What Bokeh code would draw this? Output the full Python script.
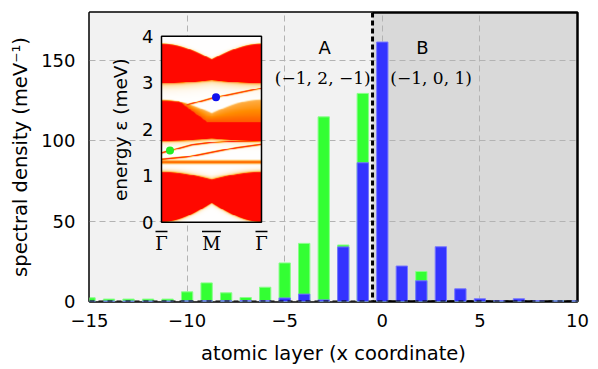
import numpy as np
from bokeh.plotting import figure
from bokeh.models import (Range1d, Span, FixedTicker, ColumnDataSource)
from bokeh.core.properties import value
from bokeh.embed import file_html
from bokeh.resources import INLINE

# ---------------- data ----------------
layers = list(range(-15, 11))
green_density = [2.3, 1.5, 1.5, 1.5, 1.5, 6.0, 11.6, 5.4, 2.5, 8.9, 24.0, 36.2, 115.0,
                 35.2, 129.6, 0.5, 0.3, 18.7, 0.3, 0.3, 0.3, 0.3, 0.3, 0.3, 0.6, 0.3]
blue_density = [0.3, 0.3, 0.3, 0.3, 0.3, 0.4, 0.5, 0.5, 0.6, 0.6, 2.2, 4.6, 1.0,
                34.0, 86.4, 161.6, 22.1, 12.9, 34.1, 7.9, 1.7, 0.6, 1.7, 0.6, 0.4, 0.4]
x_ticks = [-15, -10, -5, 0, 5, 10]
x_tick_labels = ["\u221215", "\u221210", "\u22125", "0", "5", "10"]
y_ticks = [0, 50, 100, 150]
boundary = -0.5
region_names = ["A", "B"]
region_tuples = ["(\u22121, 2, \u22121)", "(\u22121, 0, 1)"]

# inset (band structure) data
inset_k_ticks = [0, 1, 2]
inset_k_labels = ["\u0393", "M", "\u0393"]
inset_e_ticks = [0, 1, 2, 3, 4]
band_bottom = (0.0, 0.40, 1.08, 0.92)   # lower(G), lower(M), upper(G), upper(M)
band_top = (2.98, 3.05, 3.84, 3.51)
band_mid_lower = (1.74, 1.79)
mid_red_top_k = [0.0, 0.35, 0.9, 2.0]
mid_red_top_e = [2.62, 2.60, 2.17, 2.15]
mid_orange_top = (2.64, 2.35)
flat_orange = (1.25, 1.33)
line_a_k = [0.0, 0.17, 0.6, 1.0, 1.5, 2.0]
line_a_e = [1.49, 1.54, 1.66, 1.71, 1.74, 1.75]
line_b_k = [0.0, 0.5, 1.0, 1.5, 2.0]
line_b_e = [1.35, 1.40, 1.50, 1.60, 1.67]
line_c_k = [0.5, 1.09, 2.0]
line_c_e = [2.52, 2.69, 2.88]
green_state = (0.17, 1.54)
blue_state = (1.09, 2.69)

# ---------------- inset image ----------------
NK, NE = 200, 400
kk = np.linspace(0, 2, NK)
ee = np.linspace(0, 4, NE)
K, EE = np.meshgrid(kk, ee)
cc = np.abs(np.cos(np.pi * K / 2))


def edge(g, m):
    return m + (g - m) * cc


def inside(lo, hi, soft=0.025):
    return np.clip((EE - lo) / soft + 0.5, 0, 1) * np.clip((hi - EE) / soft + 0.5, 0, 1)


def glow_below(lo, w, a):
    d = lo - EE
    return np.where(d > 0, a * np.exp(-d / w), 0)


def glow_above(hi, w, a):
    d = EE - hi
    return np.where(d > 0, a * np.exp(-d / w), 0)


def curve(ks, es, width=0.018):
    ec = np.interp(K, ks, es, left=np.nan, right=np.nan)
    g = np.exp(-((EE - ec) / width) ** 2)
    return np.nan_to_num(g)


I = np.zeros_like(EE)
lo1, hi1 = edge(band_bottom[0], band_bottom[1]), edge(band_bottom[2], band_bottom[3])
I = np.maximum(I, inside(lo1, hi1))
I = np.maximum(I, glow_above(hi1, 0.04, 0.5))
I = np.maximum(I, glow_below(lo1, 0.03, 0.4))
I = np.maximum(I, 0.7 * inside(flat_orange[0], flat_orange[1], 0.05))
lo2 = edge(*band_mid_lower)
hi2 = np.interp(K, mid_red_top_k, mid_red_top_e)
I = np.maximum(I, inside(lo2, hi2))
I = np.maximum(I, glow_below(lo2, 0.05, 0.5))
ot = edge(*mid_orange_top)
orange_frac = np.clip((ot - EE) / np.maximum(ot - hi2, 1e-3), 0, 1)
I = np.maximum(I, inside(hi2 - 0.05, ot, 0.04) * (0.45 + 0.3 * orange_frac))
lo3, hi3 = edge(band_top[0], band_top[1]), edge(band_top[2], band_top[3])
I = np.maximum(I, inside(lo3, hi3))
I = np.maximum(I, glow_below(lo3, 0.08, 0.45))
I = np.maximum(I, glow_above(hi3, 0.02, 0.3))
I = np.maximum(I, curve(line_a_k, line_a_e))
I = np.maximum(I, curve(line_b_k, line_b_e))
I = np.maximum(I, 0.95 * curve(line_c_k, line_c_e))

tp = [0.0, 0.25, 0.6, 1.0]
R = np.interp(I, tp, [255, 255, 255, 255])
G = np.interp(I, tp, [255, 228, 140, 8])
B = np.interp(I, tp, [255, 175, 0, 0])
img = np.zeros((NE, NK), dtype=np.uint32)
view = img.view(dtype=np.uint8).reshape((NE, NK, 4))
view[:, :, 0] = R.astype(np.uint8)
view[:, :, 1] = G.astype(np.uint8)
view[:, :, 2] = B.astype(np.uint8)
view[:, :, 3] = 255

# ---------------- figure ----------------
FONT = "DejaVu Sans"
SERIF = "DejaVu Serif"
p = figure(width=598, height=369, x_range=Range1d(-15, 10), y_range=Range1d(0, 180),
           output_backend="svg", toolbar_location=None,
           min_border_left=89, min_border_right=21, min_border_top=12, min_border_bottom=68)
p.extra_x_ranges = {"kx": Range1d(-1.44, 8.32)}
p.extra_y_ranges = {"ey": Range1d(-1.705, 4.51)}

p.background_fill_color = "#d9d9d9"
p.border_fill_color = "white"
p.outline_line_color = "black"
p.outline_line_width = 2.5

# left shaded region below grid
p.quad(left=[-15], right=[boundary], bottom=[0], top=[180], fill_color="#f2f2f2",
       line_color=None, level="image")

for g in (p.xgrid, p.ygrid):
    g.grid_line_color = "#b3b3b3"
    g.grid_line_dash = "6 4"
    g.grid_line_width = 1

p.xaxis.ticker = FixedTicker(ticks=x_ticks)
p.xaxis.major_label_overrides = dict(zip(x_ticks, x_tick_labels))
p.yaxis.ticker = FixedTicker(ticks=y_ticks)
for ax in (p.xaxis, p.yaxis):
    ax.axis_line_color = None
    ax.major_tick_line_color = None
    ax.minor_tick_line_color = None
    ax.major_label_text_font = FONT
    ax.major_label_text_font_size = "18px"
    ax.major_label_text_color = "black"
    ax.axis_label_text_font = FONT
    ax.axis_label_text_font_size = "19.5px"
    ax.axis_label_text_font_style = "normal"
    ax.axis_label_text_color = "black"
p.xaxis.axis_label = "atomic layer (x coordinate)"
p.yaxis.axis_label = "spectral density (meV\u207b\u00b9)"
p.xaxis.major_label_standoff = 6
p.yaxis.major_label_standoff = 8
p.xaxis.axis_label_standoff = 12
p.yaxis.axis_label_standoff = 6

src = ColumnDataSource(dict(x=layers, g=green_density, b=blue_density))
p.vbar(x="x", top="g", bottom=0, width=0.58, source=src, fill_color="#33ff33",
       line_color="#88ff88", line_width=1)
p.vbar(x="x", top="b", bottom=0, width=0.58, source=src, fill_color="#3333ff",
       line_color="#7777ff", line_width=1)

p.add_layout(Span(location=boundary, dimension="height", line_color="black",
                  line_width=3, line_dash="5 3"))
p.add_layout(Span(location=0, dimension="width", line_color="black",
                  line_width=2, line_dash="5 4"))

# region labels
p.text(x=[-2.95, 2.05], y=[158.5, 158.5], text=region_names, text_font=value(FONT),
       text_font_size="18px", text_align="center", text_baseline="middle")
p.text(x=[-3.05, 2.5], y=[139.5, 139.5], text=region_tuples,
       text_font=value(SERIF), text_font_size="17px",
       text_align="center", text_baseline="middle")

# ---------------- inset ----------------
p.image_rgba(image=[img], x=0, y=0, dw=2, dh=4, x_range_name="kx", y_range_name="ey")
p.quad(left=[inset_k_ticks[0]], right=[inset_k_ticks[-1]], bottom=[inset_e_ticks[0]],
       top=[inset_e_ticks[-1]], fill_color=None, line_color="black", line_width=1.5,
       x_range_name="kx", y_range_name="ey")
p.scatter(x=[green_state[0]], y=[green_state[1]], size=8, fill_color="#22ee22",
          line_color=None, x_range_name="kx", y_range_name="ey")
p.scatter(x=[blue_state[0]], y=[blue_state[1]], size=8, fill_color="#1010ee",
          line_color=None, x_range_name="kx", y_range_name="ey")
p.text(x=[-0.16] * len(inset_e_ticks), y=inset_e_ticks, text=[str(v) for v in inset_e_ticks],
       text_font=value(FONT), text_font_size="18px", text_align="right",
       text_baseline="middle", x_range_name="kx", y_range_name="ey")
p.text(x=[-0.82], y=[1.99], text=["energy \u03b5 (meV)"], angle=np.pi / 2,
       text_font=value(FONT), text_font_size="18.5px", text_align="center",
       text_baseline="middle", x_range_name="kx", y_range_name="ey")
p.text(x=inset_k_ticks, y=[-0.46] * 3, text=inset_k_labels,
       text_font=value(SERIF), text_font_size="18px", text_align="center",
       text_baseline="middle", x_range_name="kx", y_range_name="ey")
ol_half = [0.12, 0.19, 0.12]
p.segment(x0=[k - h for k, h in zip(inset_k_ticks, ol_half)], y0=[-0.2] * 3,
          x1=[k + h for k, h in zip(inset_k_ticks, ol_half)], y1=[-0.2] * 3,
          line_color="black", line_width=1.3, x_range_name="kx", y_range_name="ey")

open("out.html", "w").write(file_html(p, INLINE))
